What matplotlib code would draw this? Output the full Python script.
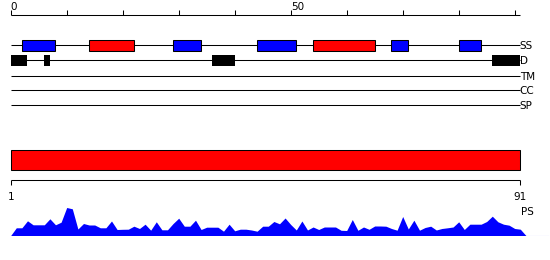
import matplotlib
matplotlib.use("Agg")
import matplotlib.pyplot as plt

# sequence / ruler
seq_len = 91
ruler_ticks = list(range(0, 91, 10))
ruler_labels = ["0", "50"]
ruler_label_pos = [0, 50]

# secondary structure (SS) and disorder (D) segments
helix_start = [14, 54]
helix_end = [22, 65]
strand_start = [2, 29, 44, 68, 80]
strand_end = [8, 34, 51, 71, 84]
dis_start = [0, 6, 36, 86]
dis_end = [3, 7, 40, 91]

tracks = ["SS", "D", "TM", "CC", "SP"]
track_row = [45, 60.3, 75.7, 90.3, 105.3]   # pixel rows

# domain bar (1..91)
dom_start = [1]
dom_end = [91]
dom_labels = ["1", "91"]

# per-residue PS profile
ps_res = list(range(1, 92))
ps_val = [7.7, 7.7, 14.7, 10.7, 10.7, 10.7, 16.7, 10.7, 13.3, 28,
          26.7, 6.5, 12, 10.5, 10.5, 7.7, 7.7, 14.5, 6, 6.2,
          6.3, 9.3, 7, 11.3, 5.3, 13.7, 5.7, 5.7, 12, 17.3,
          9.3, 9.3, 15.3, 6, 8.3, 8.3, 8.3, 4.3, 11.3, 4.7,
          6.3, 6.3, 5.5, 4.3, 9.3, 9.3, 14, 11.7, 17.5, 11,
          5.5, 14.5, 5.5, 8.5, 6, 8.5, 8.5, 8.5, 5.2, 5,
          16, 5.2, 8.5, 6.2, 9.5, 9.5, 9.3, 7, 5.3, 19,
          6.5, 15.3, 5.3, 8, 9.3, 5.5, 7, 7.7, 8.5, 13.7,
          6, 11.3, 11.3, 11.3, 14, 19.3, 13.7, 11.3, 10.3, 7,
          6.3]

W, H = 550, 260
FS = 7.5
LW = 0.75
px = 5.6            # pixels per residue on top scale
x0 = 10.7           # pixel of residue 0

fig = plt.figure(figsize=(W / 100, H / 100), dpi=100)

# top panel, x in residues, y in pixel rows
ax = fig.add_axes([0, 0, 1, 1])
ax.set_xlim(-x0 / px, (W - x0) / px)
ax.set_ylim(H, 0)
ax.axis("off")

ax.hlines(15, 0, seq_len, color="black", lw=LW)
ax.vlines(ruler_ticks, 10.3, 15, color="black", lw=LW)
for lab, p in zip(ruler_labels, ruler_label_pos):
    ax.text(p, 9.5, lab, fontsize=FS, ha="left", va="baseline")

for name, row in zip(tracks, track_row):
    ax.hlines(row, 0, seq_len, color="black", lw=LW, zorder=1)
    ax.text(seq_len - 0.1, row + 4, name, fontsize=FS, ha="left", va="baseline")

ss = track_row[0]
ax.barh(ss + 0.5, [e - s for s, e in zip(strand_start, strand_end)], left=strand_start,
        height=10.4, color="#0000ff", edgecolor="black", lw=LW, zorder=2)
ax.barh(ss + 0.5, [e - s for s, e in zip(helix_start, helix_end)], left=helix_start,
        height=10.4, color="#ff0000", edgecolor="black", lw=LW, zorder=2)
ax.barh(track_row[1], [e - s for s, e in zip(dis_start, dis_end)], left=dis_start,
        height=10.6, color="black", edgecolor="black", lw=0, zorder=2)

# domain bar + bottom ruler, x in residues 1..91
ax2 = fig.add_axes([0, 0, 1, 1])
sc = 509.6 / (dom_end[0] - dom_start[0])   # pixels per residue on bottom scale
ax2.set_xlim(dom_start[0] - x0 / sc, dom_start[0] + (W - x0) / sc)
ax2.set_ylim(H, 0)
ax2.axis("off")
ax2.patch.set_alpha(0)
ax2.barh(160.3, [e - s for s, e in zip(dom_start, dom_end)], left=dom_start,
         height=20, color="#ff0000", edgecolor="black", lw=LW)
ax2.hlines(180.3, dom_start[0], dom_end[0], color="black", lw=LW)
ax2.vlines([dom_start[0], dom_end[0]], 180.3, 185, color="black", lw=LW)
for lab, p in zip(dom_labels, [dom_start[0], dom_end[0]]):
    ax2.text(p, 200, lab, fontsize=FS, ha="center", va="baseline")
ax2.text(dom_end[0] + 0.2, 215, "PS", fontsize=FS, ha="left", va="baseline")

# PS profile
ax3 = fig.add_axes([0, 24 / H, 1, 40 / H])
ax3.set_xlim(-x0 / px, (W - x0) / px)
ax3.set_ylim(-0.5, 39.5)
ax3.axis("off")
ax3.patch.set_alpha(0)
ax3.fill_between([0] + ps_res + [seq_len + 1], [0] + ps_val + [0], 0,
                 color="#0000ff", lw=0)
ax3.axhline(0, xmin=(x0 + px * seq_len) / W, xmax=548 / W, color="#0000ff", lw=LW)

fig.savefig("out.png", dpi=100)
